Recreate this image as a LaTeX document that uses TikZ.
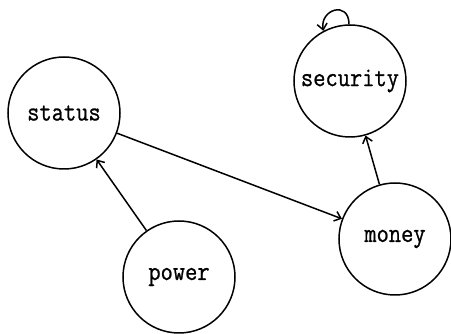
\documentclass[tikz,border=0pt]{standalone}
\usepackage{fontspec}
\usepackage{graphicx}
\newfontfamily\typefont{Latin Modern Mono}[FakeBold=0.9]
\newcommand{\lbl}[1]{\scalebox{1}[1.15]{#1}}
\usetikzlibrary{arrows.meta}
\begin{document}
\begin{tikzpicture}[x=1pt,y=1pt,
  concept/.style={circle,draw,line width=1.5pt,minimum size=112pt,inner sep=0pt,font=\typefont\fontsize{23.8}{25}\selectfont},
  link/.style={line width=1.5pt,-{Straight Barb[length=6pt,width=10pt,line width=1.5pt]}}]
\useasboundingbox (0,0) rectangle (451,334);
\node[concept] (status) at (64,221) {\lbl{status}};
\node[concept] (security) at (350,253) {\lbl{security}};
\node[concept] (money) at (395,95) {\lbl{money}};
\node[concept] (power) at (179,57) {\lbl{power}};
\draw[link] (status) -- (money);
\draw[link] (power) -- (status);
\draw[link] (money) -- (security);
\draw[link] (security.91) .. controls +(90:24pt) and +(100:22pt) .. (security.118);
\end{tikzpicture}
\end{document}
